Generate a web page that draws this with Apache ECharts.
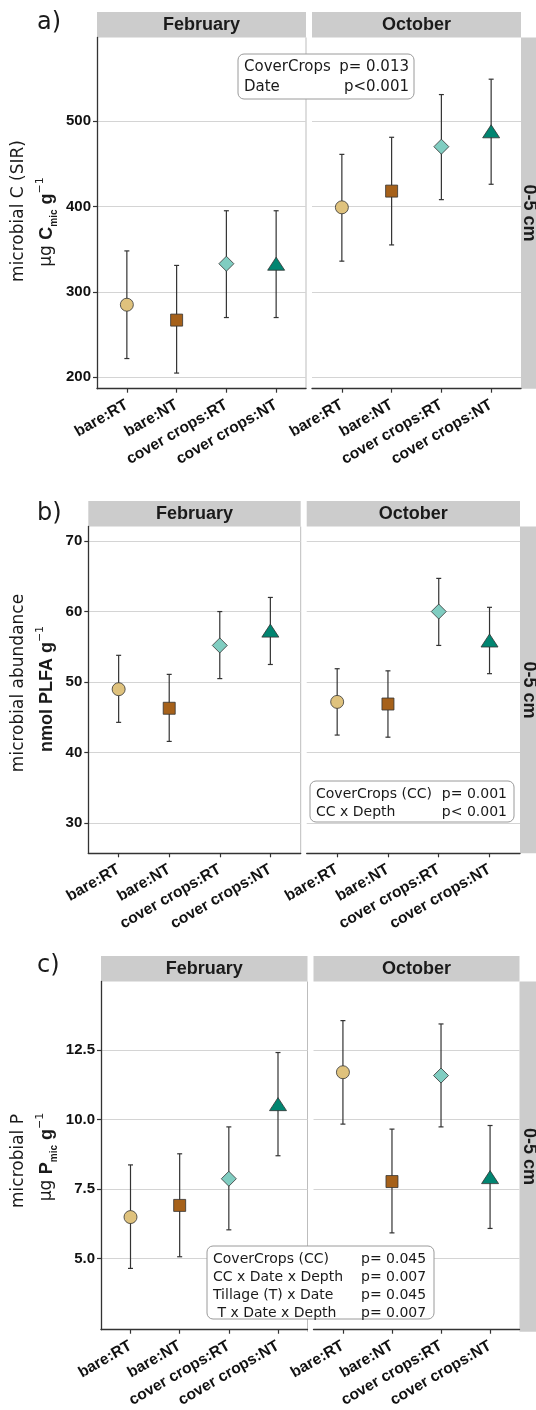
<!DOCTYPE html>
<html>
<head>
  <meta charset="utf-8">
  <title>microbial C, abundance and P</title>
  <style>
    html, body { margin: 0; padding: 0; background: #fff; }
    #chart { width: 536px; height: 1410px; }
  </style>
</head>
<body>
  <div id="chart"></div>
  <script src="https://cdn.jsdelivr.net/npm/echarts@6/dist/echarts.min.js"></script>
  <script type="text/javascript">
    // x categories (same in both facets)
    var categories = ['bare:RT', 'bare:NT', 'cover crops:RT', 'cover crops:NT'];
    var months = ['February', 'October'];

    // a) microbial C (SIR)
    var sirFebMean = [285, 267, 333, 333];
    var sirFebLow = [222, 205, 270, 270];
    var sirFebHigh = [348, 331, 395, 395];
    var sirOctMean = [399, 418, 470, 488];
    var sirOctLow = [336, 355, 408, 426];
    var sirOctHigh = [461, 481, 531, 549];
    var sirTicks = [200, 300, 400, 500];

    // b) microbial abundance
    var plfaFebMean = [49.0, 46.3, 55.2, 57.3];
    var plfaFebLow = [44.3, 41.6, 50.5, 52.5];
    var plfaFebHigh = [53.8, 51.1, 60.0, 62.0];
    var plfaOctMean = [47.2, 46.9, 60.0, 55.9];
    var plfaOctLow = [42.5, 42.2, 55.2, 51.2];
    var plfaOctHigh = [51.9, 51.6, 64.7, 60.6];
    var plfaTicks = [30, 40, 50, 60, 70];

    // c) microbial P
    var pFebMean = [6.49, 6.91, 7.87, 10.56];
    var pFebLow = [4.64, 5.06, 6.03, 8.70];
    var pFebHigh = [8.37, 8.77, 9.74, 12.42];
    var pOctMean = [11.71, 7.77, 11.59, 7.93];
    var pOctLow = [9.84, 5.92, 9.74, 6.08];
    var pOctHigh = [13.57, 9.66, 13.45, 9.79];
    var pTicks = [5.0, 7.5, 10.0, 12.5];

    // one symbol / fill per category
    var fills = ['#dfc27d', '#a6611a', '#80cdc1', '#018571'];
    var symbols = ['circle', 'rect', 'diamond', 'triangle'];
    var sizes = [13, 12, 15, [17, 13]];

    var sans = 'Liberation Sans, Arial, sans-serif';
    var dejavu = 'DejaVu Sans, sans-serif';

    // layout of the three stacked plots
    var panels = [
      {
        tag: 'a)', tagY: 23, top: 37.5, height: 351.2, lefts: [97, 312], widths: [209, 209],
        min: 186.7, max: 597.8, ticks: sirTicks, digits: 0,
        data: [[sirFebMean, sirFebLow, sirFebHigh], [sirOctMean, sirOctLow, sirOctHigh]],
        title1: 'microbial C (SIR)', title2: '{n|µg }{b|C}{s|mic}{b| g}{p|−1}', t1y: 211, t2y: 222
      },
      {
        tag: 'b)', tagY: 514, top: 526.5, height: 326.8, lefts: [88.3, 306.7], widths: [212.4, 213.3],
        min: 25.75, max: 72.05, ticks: plfaTicks, digits: 0,
        data: [[plfaFebMean, plfaFebLow, plfaFebHigh], [plfaOctMean, plfaOctLow, plfaOctHigh]],
        title1: 'microbial abundance', title2: '{b|nmol PLFA g}{p|−1}', t1y: 683, t2y: 689
      },
      {
        tag: 'c)', tagY: 966, top: 981.5, height: 350.2, lefts: [101, 313.5], widths: [206.5, 206],
        min: 2.43, max: 14.98, ticks: pTicks, digits: 1,
        data: [[pFebMean, pFebLow, pFebHigh], [pOctMean, pOctLow, pOctHigh]],
        title1: 'microbial P', title2: '{n|µg }{b|P}{s|mic}{b| g}{p|−1}', t1y: 1161, t2y: 1157
      }
    ];

    var grids = [], xAxes = [], yAxes = [], series = [], graphics = [];

    panels.forEach(function (p, pi) {
      months.forEach(function (m, f) {
        var idx = pi * 2 + f;
        grids.push({ left: p.lefts[f], top: p.top, width: p.widths[f], height: p.height });
        xAxes.push({
          gridIndex: idx, type: 'value', min: 0.4, max: 4.6,
          axisLine: { show: true, onZero: false, lineStyle: { color: '#333', width: 1.3 } },
          axisTick: { show: true, customValues: [1, 2, 3, 4], length: 4, lineStyle: { color: '#333', width: 1.2 } },
          axisLabel: {
            customValues: [1, 2, 3, 4], rotate: 30, margin: 15,
            fontFamily: sans, fontWeight: 'bold', fontSize: 15.5, color: '#111',
            formatter: function (v) { return categories[Math.round(v) - 1]; }
          },
          splitLine: { show: false }
        });
        yAxes.push({
          gridIndex: idx, type: 'value', min: p.min, max: p.max,
          axisLine: { show: f === 0, lineStyle: { color: '#333', width: 1.3 } },
          axisTick: { show: f === 0, customValues: p.ticks, length: 4, lineStyle: { color: '#333', width: 1.2 } },
          axisLabel: {
            show: f === 0, customValues: p.ticks, margin: 6,
            fontFamily: sans, fontWeight: 'bold', fontSize: 15, color: '#111',
            formatter: function (v) { return v.toFixed(p.digits); }
          },
          splitLine: { show: true, lineStyle: { color: '#d4d4d4', width: 1 } }
        });

        var mean = p.data[f][0], low = p.data[f][1], high = p.data[f][2];
        // error bars
        series.push({
          type: 'custom', xAxisIndex: idx, yAxisIndex: idx, z: 2,
          data: categories.map(function (c, i) { return [i + 1, low[i], high[i]]; }),
          encode: { x: 0, y: [1, 2] },
          renderItem: function (params, api) {
            var x = api.value(0);
            var lo = api.coord([x, api.value(1)]);
            var hi = api.coord([x, api.value(2)]);
            var cap = 2.5;
            var st = { stroke: '#333', lineWidth: 1.2 };
            return {
              type: 'group', children: [
                { type: 'line', shape: { x1: lo[0], y1: lo[1], x2: hi[0], y2: hi[1] }, style: st },
                { type: 'line', shape: { x1: lo[0] - cap, y1: lo[1], x2: lo[0] + cap, y2: lo[1] }, style: st },
                { type: 'line', shape: { x1: hi[0] - cap, y1: hi[1], x2: hi[0] + cap, y2: hi[1] }, style: st }
              ]
            };
          }
        });
        // means
        series.push({
          type: 'scatter', xAxisIndex: idx, yAxisIndex: idx, z: 3,
          data: mean.map(function (v, i) {
            return { value: [i + 1, v], symbol: symbols[i], symbolSize: sizes[i], itemStyle: { color: fills[i] } };
          }),
          itemStyle: { borderColor: '#333', borderWidth: 0.8, opacity: 1 }
        });

        // facet strip on top
        graphics.push({
          type: 'rect', shape: { x: p.lefts[f], y: p.top - 25.5, width: p.widths[f], height: 25.5 },
          style: { fill: '#cccccc' }
        });
        graphics.push({
          type: 'text', x: p.lefts[f] + p.widths[f] / 2, y: p.top - 12.5,
          style: { text: m, fontFamily: sans, fontWeight: 'bold', fontSize: 18, fill: '#1a1a1a', align: 'center', verticalAlign: 'middle' }
        });
      });

      // thin border right of the February panel
      var bx = p.lefts[0] + p.widths[0];
      graphics.push({
        type: 'line', shape: { x1: bx, y1: p.top, x2: bx, y2: p.top + p.height },
        style: { stroke: '#bdbdbd', lineWidth: 1 }
      });

      // depth strip on the right
      var rx = p.lefts[1] + p.widths[1];
      graphics.push({
        type: 'rect', shape: { x: rx, y: p.top, width: 536 - rx + 10, height: p.height },
        style: { fill: '#cccccc' }
      });
      graphics.push({
        type: 'text', x: 529, y: p.top + p.height / 2, rotation: -Math.PI / 2,
        style: { text: '0-5 cm', fontFamily: sans, fontWeight: 'bold', fontSize: 18, fill: '#1a1a1a', align: 'center', verticalAlign: 'middle' }
      });

      // panel tag
      graphics.push({
        type: 'text', x: 37, y: p.tagY,
        style: { text: p.tag, fontFamily: dejavu, fontSize: 24, fill: '#1a1a1a', align: 'left', verticalAlign: 'middle' }
      });

      // y axis titles
      graphics.push({
        type: 'text', x: 19, y: p.t1y, rotation: Math.PI / 2,
        style: { text: p.title1, fontFamily: dejavu, fontSize: 17, fill: '#1a1a1a', align: 'center', verticalAlign: 'middle' }
      });
      graphics.push({
        type: 'text', x: 47, y: p.t2y, rotation: Math.PI / 2,
        style: {
          text: p.title2, align: 'center', verticalAlign: 'middle', fill: '#1a1a1a',
          rich: {
            n: { fontFamily: dejavu, fontSize: 17, lineHeight: 24, fill: '#1a1a1a' },
            b: { fontFamily: sans, fontWeight: 'bold', fontSize: 18, lineHeight: 24, fill: '#1a1a1a' },
            s: { fontFamily: sans, fontWeight: 'bold', fontSize: 10, verticalAlign: 'bottom', lineHeight: 24, fill: '#1a1a1a' },
            p: { fontFamily: dejavu, fontSize: 11, verticalAlign: 'top', lineHeight: 24, fill: '#1a1a1a' }
          }
        }
      });
    });

    // statistics boxes
    function statBox(x, y, w, h, rows, valueX, valueAlign, size, step) {
      graphics.push({
        type: 'rect', shape: { x: x, y: y, width: w, height: h, r: 6 },
        style: { fill: '#fff', stroke: '#9a9a9a', lineWidth: 1 }, z: 50
      });
      rows.forEach(function (r, i) {
        var ty = y + 13.5 + i * step;
        graphics.push({
          type: 'text', x: x + 6, y: ty, z: 51,
          style: { text: r[0], fontFamily: dejavu, fontSize: size, fill: '#1a1a1a', align: 'left', verticalAlign: 'middle' }
        });
        graphics.push({
          type: 'text', x: valueX, y: ty, z: 51,
          style: { text: r[1], fontFamily: dejavu, fontSize: size, fill: '#1a1a1a', align: valueAlign, verticalAlign: 'middle' }
        });
      });
    }

    var statsA = [['CoverCrops', 'p= 0.013'], ['Date', 'p<0.001']];
    var statsB = [['CoverCrops (CC)', 'p= 0.001'], ['CC x Depth', 'p< 0.001']];
    var statsC = [['CoverCrops (CC)', 'p= 0.045'], ['CC x Date x Depth', 'p= 0.007'],
                  ['Tillage (T) x Date', 'p= 0.045'], [' T x Date x Depth', 'p= 0.007']];

    statBox(238, 54, 176, 45, statsA, 409, 'right', 15, 20);
    statBox(310, 781, 204, 41, statsB, 507, 'right', 14, 18);
    statBox(207, 1246, 227, 73, statsC, 361, 'left', 14, 18);

    var chart = echarts.init(document.getElementById('chart'));
    chart.setOption({
      animation: false,
      backgroundColor: '#fff',
      grid: grids,
      xAxis: xAxes,
      yAxis: yAxes,
      series: series,
      graphic: { elements: graphics }
    });
  </script>
</body>
</html>
